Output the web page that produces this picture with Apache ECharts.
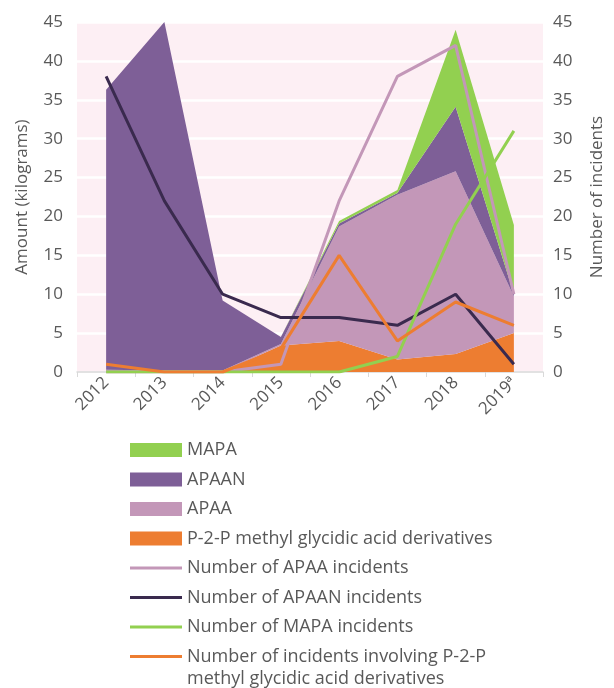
<!DOCTYPE html>
<html>
<head>
<meta charset="utf-8">
<script src="https://cdn.jsdelivr.net/npm/echarts@6/dist/echarts.min.js"></script>
<style>
  html, body { margin: 0; padding: 0; background: #ffffff; }
  #chart { width: 614px; height: 688px; }
</style>
</head>
<body>
<div id="chart"></div>
<script>
// 年份（类目轴）
var YEARS = ['2012', '2013', '2014', '2015', '2016', '2017', '2018', '2019ª'];

// 缴获量（千克），堆叠面积
var P2P_KG   = [0, 0, 0, 3.4, 4.0, 1.6, 2.3, 5.0];
var APAA_KG  = [0.3, 0.2, 0.2, 0.2, 14.7, 21.2, 23.5, 4.7];
var APAAN_KG = [36.0, 44.8, 9.0, 0.9, 0.4, 0.2, 8.3, 0.3];
var MAPA_KG  = [0, 0, 0, 0, 0.3, 0.4, 9.9, 8.9];

// 事件数量（右轴）
var APAA_INC  = [0, 0, 0, 1, 22, 38, 42, 10];
var APAAN_INC = [38, 22, 10, 7, 7, 6, 10, 1];
var MAPA_INC  = [0, 0, 0, 0, 0, 2, 19, 31];
var P2P_INC   = [1, 0, 0, 3, 15, 4, 9, 6];

var FONT = 'Open Sans';
var GREY = '#595959';
var LINE_ICON = 'path://M0,0h55v3h-55z';
// 最后一项图例文字太长，第二行单独画
var P2P_LINE_NAME = 'Number of incidents involving P-2-P';
var P2P_LINE_NAME_2 = 'methyl glycidic acid derivatives';

var chart = echarts.init(document.getElementById('chart'));

function areaSeries(name, data, color) {
  return {
    name: name,
    type: 'line',
    stack: 'kg',
    data: data,
    symbol: 'none',
    lineStyle: { width: 0 },
    areaStyle: { color: color, opacity: 1 },
    itemStyle: { color: color },
    z: 2
  };
}

function lineSeries(name, data, color) {
  return {
    name: name,
    type: 'line',
    yAxisIndex: 1,
    data: data,
    symbol: 'none',
    lineStyle: { width: 3, color: color },
    itemStyle: { color: color },
    z: 5
  };
}

var axisLabel = { color: GREY, fontFamily: FONT, fontSize: 17 };

chart.setOption({
  backgroundColor: '#ffffff',
  animation: false,
  textStyle: { fontFamily: FONT },
  grid: {
    left: 77, right: 57, top: 22, bottom: 316,
    show: true, backgroundColor: '#FDEFF4', borderWidth: 0
  },
  xAxis: {
    type: 'category',
    data: YEARS,
    boundaryGap: true,
    axisLine: { lineStyle: { color: '#D9D9D9', width: 1.5 } },
    axisTick: { show: true, length: 5, lineStyle: { color: '#D9D9D9' } },
    axisLabel: Object.assign({ rotate: 45, margin: 8, interval: 0 }, axisLabel)
  },
  yAxis: [
    {
      type: 'value', min: 0, max: 45, interval: 5,
      name: 'Amount (kilograms)', nameLocation: 'middle', nameRotate: 90, nameGap: 46,
      nameTextStyle: { color: GREY, fontFamily: FONT, fontSize: 17 },
      axisLine: { show: false }, axisTick: { show: false },
      axisLabel: Object.assign({ margin: 14 }, axisLabel),
      splitLine: { lineStyle: { color: '#ffffff', width: 2.5 } }
    },
    {
      type: 'value', min: 0, max: 45, interval: 5, position: 'right',
      name: 'Number of incidents', nameLocation: 'middle', nameRotate: 90, nameGap: 46,
      nameTextStyle: { color: GREY, fontFamily: FONT, fontSize: 17, lineHeight: 17 },
      axisLine: { show: false }, axisTick: { show: false },
      axisLabel: Object.assign({ margin: 10 }, axisLabel),
      splitLine: { show: false }
    }
  ],
  legend: {
    orient: 'vertical',
    left: 125, top: 435, height: 320,
    itemWidth: 52, itemHeight: 14, itemGap: 9.5,
    textStyle: { color: GREY, fontFamily: FONT, fontSize: 18, lineHeight: 20 },
    data: [
      { name: 'MAPA', icon: 'rect' },
      { name: 'APAAN', icon: 'rect' },
      { name: 'APAA', icon: 'rect' },
      { name: 'P-2-P methyl glycidic acid derivatives', icon: 'rect' },
      { name: 'Number of APAA incidents', icon: LINE_ICON },
      { name: 'Number of APAAN incidents', icon: LINE_ICON },
      { name: 'Number of MAPA incidents', icon: LINE_ICON },
      { name: P2P_LINE_NAME, icon: LINE_ICON }
    ]
  },
  graphic: [{
    type: 'text',
    left: 187, top: 670,
    style: { text: P2P_LINE_NAME_2, fill: GREY, font: '18px "Open Sans"' }
  }],
  series: [
    areaSeries('P-2-P methyl glycidic acid derivatives', P2P_KG, '#ED7D31'),
    areaSeries('APAA', APAA_KG, '#C397B8'),
    areaSeries('APAAN', APAAN_KG, '#7E5F97'),
    areaSeries('MAPA', MAPA_KG, '#92D050'),
    lineSeries('Number of APAA incidents', APAA_INC, '#C397B8'),
    lineSeries('Number of APAAN incidents', APAAN_INC, '#3A2A4E'),
    lineSeries('Number of MAPA incidents', MAPA_INC, '#92D050'),
    lineSeries(P2P_LINE_NAME, P2P_INC, '#ED7D31')
  ]
});
</script>
</body>
</html>
